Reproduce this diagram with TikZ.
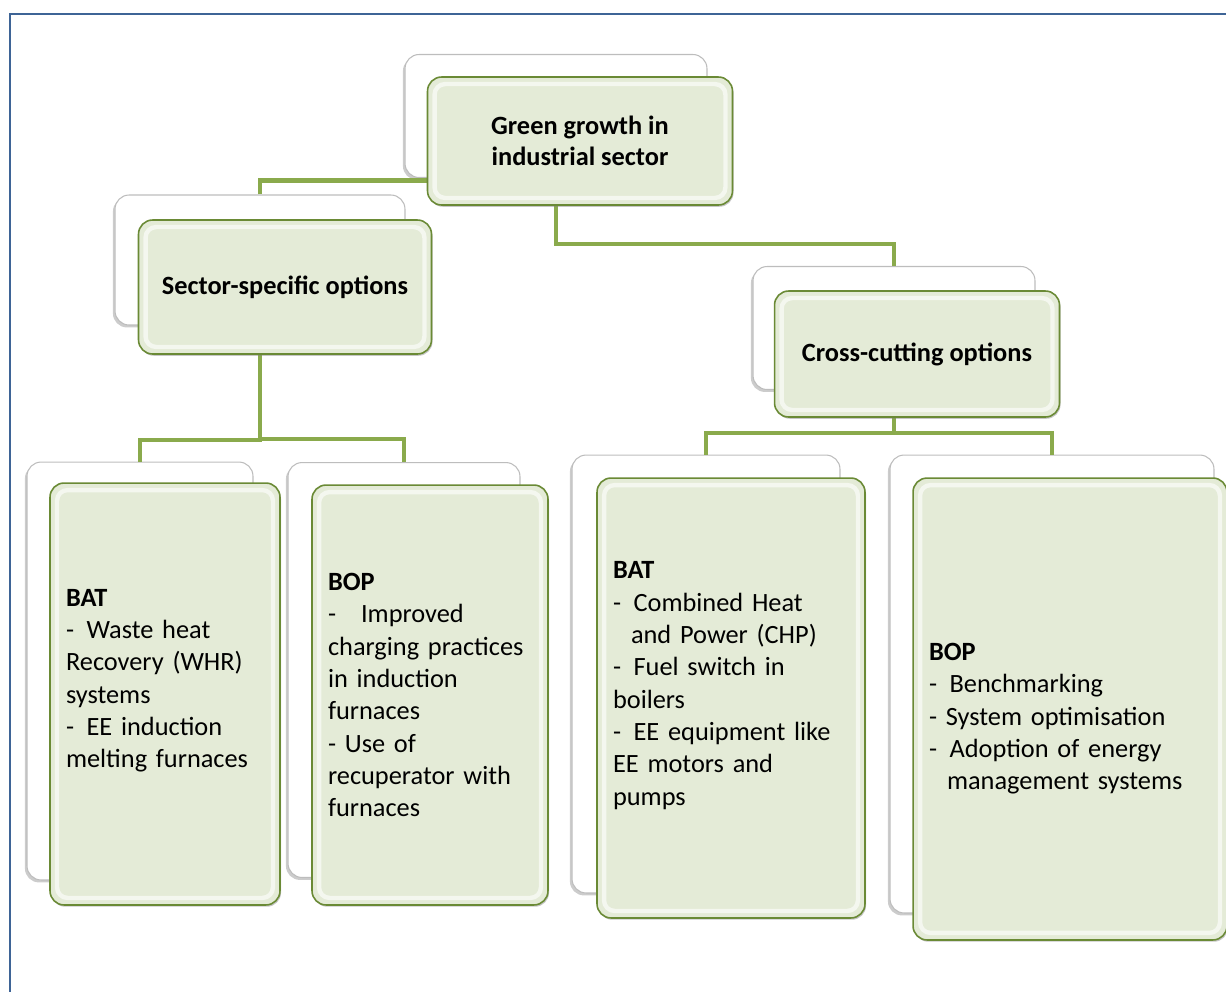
\documentclass[tikz,border=0pt]{standalone}
\usepackage{fontspec}
\setmainfont{Carlito}
\usetikzlibrary{positioning, shadows, calc}
\definecolor{ggfill}{HTML}{E4EBD7}
\definecolor{ggedge}{HTML}{6A8A35}
\definecolor{gglink}{HTML}{8AAA4C}
\definecolor{ggframe}{HTML}{3E6496}
\definecolor{ggghost}{HTML}{BDBDBD}
\newcommand{\dsh}{-\hspace{0.25cm}}

\begin{document}
\begin{tikzpicture}[x=0.02cm, y=-0.02cm,
    front/.style={draw=ggedge, line width=0.9pt, fill=ggfill, rounded corners=8pt,
      drop shadow={shadow xshift=0.6pt, shadow yshift=-1pt, opacity=0.45},
      path picture={\draw[white, opacity=0.6, line width=2.5pt, rounded corners=6pt]
        ([shift={(4pt,4pt)}]path picture bounding box.south west) rectangle
        ([shift={(-4pt,-4pt)}]path picture bounding box.north east);}},
    ghost/.style={draw=ggghost, line width=0.6pt, fill=white, rounded corners=8pt,
      drop shadow={shadow xshift=-1.2pt, shadow yshift=-1.4pt, opacity=0.4}},
    head/.style={front, font=\fontsize{15}{17.6}\selectfont\bfseries, align=center},
    leaf/.style={front, font=\fontsize{15}{18.4}\selectfont, align=left, inner xsep=0.32cm},
    link/.style={draw=gglink, line width=2.3pt}]
  \useasboundingbox (0,0) rectangle (1226,991);
  \clip (0,0) rectangle (1226,991);

  % white cards behind
  \node[ghost, minimum width=6.04cm, minimum height=2.46cm] (ggb) at (556,116) {};
  \node[ghost, minimum width=5.8cm, minimum height=2.6cm] (ssob) at (260,260) {};
  \node[ghost, minimum width=5.64cm, minimum height=2.46cm] (ccob) at (894,328) {};
  \node[ghost, minimum width=4.52cm, minimum height=8.36cm] (sbatb) at (140,671) {};
  \node[ghost, minimum width=4.64cm, minimum height=8.3cm] (sbopb) at (404,670) {};
  \node[ghost, minimum width=5.36cm, minimum height=8.76cm] (cbatb) at (706,674) {};
  \node[ghost, minimum width=6.48cm, minimum height=9.16cm] (cbopb) at (1052,684) {};

  % tree lines
  \draw[link] (ssob.north) -- ++(0,-14) -| (ggb.center);
  \draw[link] (ccob.north) -- ++(0,-22) -| (ggb.center);
  \draw[link] (sbatb.north) -- ++(0,-22) -| (ssob.center);
  \draw[link] (sbopb.north) -- ++(0,-23) -| (ssob.center);
  \draw[link] (cbatb.north) -- ++(0,-22) -| (ccob.center);
  \draw[link] (cbopb.north) -- ++(0,-22) -| (ccob.center);

  % green cards
  \node[head, minimum width=6.1cm, minimum height=2.56cm] (gg) at (580,141) {Green growth in\\industrial sector};
  \node[head, minimum width=5.86cm, minimum height=2.68cm] (sso) at (285,287) {Sector-specific options};
  \node[head, minimum width=5.7cm, minimum height=2.52cm] (cco) at (917,354) {Cross-cutting options};
  \node[leaf, text width=3.96cm, minimum height=8.44cm] (sbat) at (165,694)
    {\textbf{BAT}\\\dsh Waste heat\\Recovery (WHR)\\systems\\\dsh EE induction\\melting furnaces\rule[-0.62cm]{0pt}{0pt}};
  \node[leaf, text width=4.08cm, minimum height=8.4cm] (sbop) at (430,695)
    {\textbf{BOP}\\-\hspace{0.5cm}Improved\\charging practices\\in induction\\furnaces\\- Use of\\recuperator with\\furnaces};
  \node[leaf, text width=4.72cm, minimum height=8.8cm] (cbat) at (731,698)
    {\textbf{BAT}\\\dsh Combined Heat\\\hspace*{0.36cm}and Power (CHP)\\\dsh Fuel switch in\\boilers\\\dsh EE equipment like\\EE motors and\\pumps\rule[-0.58cm]{0pt}{0pt}};
  \node[leaf, text width=5.64cm, minimum height=9.24cm] (cbop) at (1070,709)
    {\textbf{BOP}\rule{0pt}{0.74cm}\\\dsh Benchmarking\\- System optimisation\\\dsh Adoption of energy\\\hspace*{0.36cm}management systems};

  % frame
  \draw[ggframe, line width=1.2pt] (10,995) -- (10,14) -- (1230,14);
\end{tikzpicture}
\end{document}
